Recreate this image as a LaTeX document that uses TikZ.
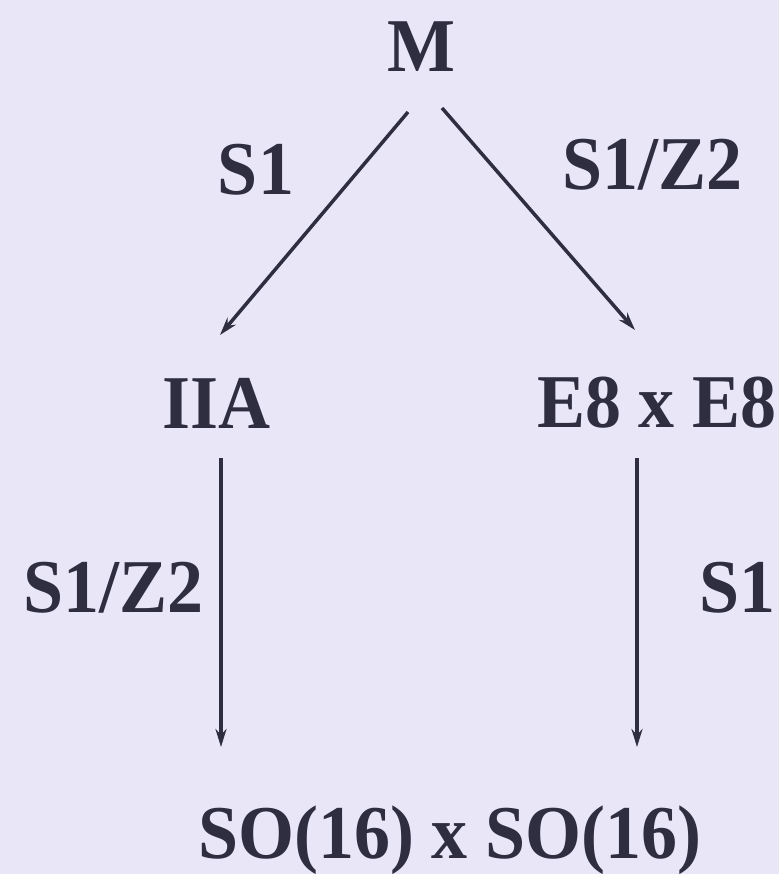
\documentclass[tikz,border=0pt]{standalone}
\usepackage{fontspec}
\setmainfont{Liberation Serif}[FakeStretch=0.947]
\usetikzlibrary{arrows.meta}
\definecolor{bg}{HTML}{E9E6F8}
\definecolor{ink}{HTML}{2E2E40}
\begin{document}
\begin{tikzpicture}[x=1pt,y=-1pt,
  lbl/.style={anchor=base,inner sep=0pt,text=ink,font=\fontsize{76}{86}\selectfont\bfseries},
  arr/.style={draw=ink,line width=3.5pt,-{Stealth[length=18pt,width=11pt]}}]
\fill[bg] (0,0) rectangle (779,874);
\useasboundingbox (0,0) rectangle (779,874);
\node[lbl] (M) at (421,72) {M};
\node[lbl] (s1l) at (256,195) {S1};
\node[lbl] (s1z2r) at (652,190) {S1/Z2};
\node[lbl] (IIA) at (216,428) {IIA};
\node[lbl] (E8) at (657,427) {E8 x E8};
\node[lbl] (s1z2l) at (113,612) {S1/Z2};
\node[lbl] (s1r) at (737,612) {S1};
\node[lbl] (SO) at (450,858) {SO(16) x SO(16)};
\coordinate (a1) at (408,112);
\coordinate (b1) at (220,335);
\coordinate (a2) at (442,108);
\coordinate (b2) at (635,330);
\coordinate (a3) at (221,458);
\coordinate (b3) at (221,747);
\coordinate (a4) at (637,458);
\coordinate (b4) at (637,747);
\draw[arr] (a1) -- (b1);
\draw[arr] (a2) -- (b2);
\draw[arr] (a3) -- (b3);
\draw[arr] (a4) -- (b4);
\end{tikzpicture}
\end{document}
